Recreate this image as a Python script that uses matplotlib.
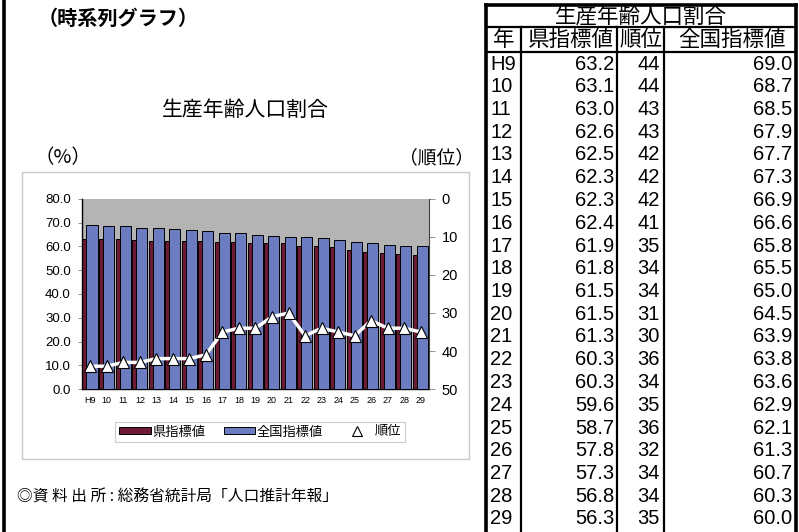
import matplotlib
matplotlib.use("Agg")
import matplotlib.pyplot as plt
from matplotlib.patches import Patch, Rectangle
from matplotlib.lines import Line2D
import numpy as np

plt.rcParams['font.family'] = ['Liberation Sans', 'Noto Sans CJK JP']

# data
years = ['H9', '10', '11', '12', '13', '14', '15', '16', '17', '18', '19',
         '20', '21', '22', '23', '24', '25', '26', '27', '28', '29']
pref = [63.2, 63.1, 63.0, 62.6, 62.5, 62.3, 62.3, 62.4, 61.9, 61.8, 61.5,
        61.5, 61.3, 60.3, 60.3, 59.6, 58.7, 57.8, 57.3, 56.8, 56.3]
rank = [44, 44, 43, 43, 42, 42, 42, 41, 35, 34, 34,
        31, 30, 36, 34, 35, 36, 32, 34, 34, 35]
national = [69.0, 68.7, 68.5, 67.9, 67.7, 67.3, 66.9, 66.6, 65.8, 65.5, 65.0,
            64.5, 63.9, 63.8, 63.6, 62.9, 62.1, 61.3, 60.7, 60.3, 60.0]

W, H = 799, 532
fig = plt.figure(figsize=(W / 100, H / 100), dpi=100)

# background layer in pixel coords
bg = fig.add_axes([0, 0, 1, 1], zorder=0)
bg.set_xlim(0, W)
bg.set_ylim(H, 0)
bg.axis('off')

jp = 'Noto Sans CJK JP'

# left border and chart frame
bg.plot([4, 4], [0, H], color='black', lw=2.6)
bg.add_patch(Rectangle((22, 172), 447, 287, fill=False, ec='#c8c8c8', lw=1))

bg.text(38, 18, '（時系列グラフ）', fontsize=14.5, fontweight='bold', family=jp,
        ha='left', va='center')
bg.text(245, 110, '生産年齢人口割合', fontsize=15, family=jp, ha='center', va='center')
bg.text(34, 158, '（%）', fontsize=14, family=jp, ha='left', va='center')
bg.text(474, 158, '（順位）', fontsize=13.5, family=jp, ha='right', va='center')
bg.text(17, 497, '◎資 料 出 所 : 総務省統計局「人口推計年報」', fontsize=11.3,
        family=jp, ha='left', va='center')

# table
x_l, x_c1, x_c2, x_c3, x_r = 486, 521, 617, 664, 796
y_top, y_t, y_h = 5, 27, 52
row_h = 22.75
bg.plot([x_l, x_r], [y_top, y_top], color='black', lw=2.6)
bg.plot([x_l, x_l], [y_top, H], color='black', lw=2.6)
bg.plot([x_r, x_r], [y_top, H], color='black', lw=2.6)
bg.plot([x_l, x_r], [y_t, y_t], color='black', lw=1.6)
bg.plot([x_l, x_r], [y_h, y_h], color='black', lw=1.6)
for xc in (x_c1, x_c2, x_c3):
    bg.plot([xc, xc], [y_t, H], color='black', lw=1.6)

bg.text((x_l + x_r) / 2, 16.5, '生産年齢人口割合', fontsize=15.5, family=jp,
        ha='center', va='center')
bg.text(504, 40, '年', fontsize=15.5, family=jp, ha='center', va='center')
bg.text(571, 40, '県指標値', fontsize=15.5, family=jp, ha='center', va='center')
bg.text(641, 40, '順位', fontsize=15.5, family=jp, ha='center', va='center')
bg.text(732, 40, '全国指標値', fontsize=15.5, family=jp, ha='center', va='center')

for i in range(len(years)):
    yc = 64 + i * row_h
    bg.text(490, yc, years[i], fontsize=14.5, ha='left', va='center')
    bg.text(614, yc, f'{pref[i]:.1f}', fontsize=14.5, ha='right', va='center')
    bg.text(660, yc, str(rank[i]), fontsize=14.5, ha='right', va='center')
    bg.text(792, yc, f'{national[i]:.1f}', fontsize=14.5, ha='right', va='center')

# chart
ax = fig.add_axes([82 / W, 1 - 389 / H, 347 / W, 190 / H], zorder=2)
ax.set_facecolor('#b4b4b4')
x = np.arange(len(years))
ax.bar(x - 0.47, pref, width=0.28, align='edge', color='#6e1a35',
       edgecolor='black', lw=0.7, zorder=2)
ax.bar(x - 0.23, national, width=0.67, align='edge', color='#6b7cc0',
       edgecolor='black', lw=0.7, zorder=3)
ax.set_xlim(-0.5, len(years) - 0.5)
ax.set_ylim(0, 80)
ax.set_yticks(np.arange(0, 81, 10))
ax.set_yticklabels([f'{v:.1f}' for v in np.arange(0, 81, 10)], fontsize=9.5)
ax.set_xticks(x)
ax.set_xticklabels(years, fontsize=6.5)
ax.tick_params(axis='x', length=0, pad=5)
ax.tick_params(axis='y', length=3, width=0.6, color='#808080', pad=5)
ax.spines['top'].set_visible(False)
ax.spines['right'].set_visible(False)
for s in ('left', 'bottom'):
    ax.spines[s].set_color('black')
    ax.spines[s].set_linewidth(1.0)

ax2 = ax.twinx()
ax2.plot(x, rank, color='white', lw=2.5, marker='^', markersize=8,
         markerfacecolor='white', markeredgecolor='black', markeredgewidth=0.8,
         zorder=5)
ax2.set_ylim(50, 0)
ax2.set_yticks(np.arange(0, 51, 10))
ax2.tick_params(axis='y', length=4, width=0.6, color='#808080', labelsize=10.5, pad=5)
ax2.spines['top'].set_visible(False)
ax2.spines['left'].set_visible(False)
ax2.spines['bottom'].set_visible(False)
ax2.spines['right'].set_color('#404040')
ax2.spines['right'].set_linewidth(0.8)

handles = [
    Patch(facecolor='#6e1a35', edgecolor='black', lw=0.7),
    Patch(facecolor='#6b7cc0', edgecolor='black', lw=0.7),
    Line2D([], [], ls='none', marker='^', markersize=7, markerfacecolor='white',
           markeredgecolor='black', markeredgewidth=0.8),
]
leg = fig.legend(handles, ['県指標値', '全国指標値', '順位'], ncol=3,
                 loc='center', bbox_to_anchor=(260 / W, 1 - 432 / H),
                 frameon=True, fancybox=False, edgecolor='#c0c0c0',
                 handlelength=2.4, handleheight=0.45, handletextpad=0.1,
                 columnspacing=1.4, borderpad=0.3, prop={'family': jp, 'size': 9.5})
leg.get_frame().set_linewidth(0.8)

fig.savefig('out.png', dpi=100)
